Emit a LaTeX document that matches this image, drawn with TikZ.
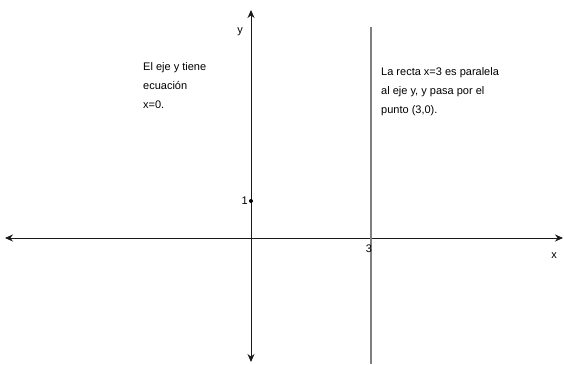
\documentclass[tikz,border=0pt]{standalone}
\usepackage{fontspec}
\setmainfont{Liberation Sans}
\usetikzlibrary{arrows.meta, positioning}
\definecolor{axisBlack}{HTML}{1A1A1A}
\definecolor{lineGray}{HTML}{7F7F7F}

\begin{document}
\begin{tikzpicture}[
    x=1pt, y=1pt,
    axis/.style={draw=axisBlack, line width=0.9pt, {Stealth[length=8pt,width=7pt]}-{Stealth[length=8pt,width=7pt]}},
    recta/.style={draw=lineGray, line width=1.2pt},
    label/.style={inner sep=0pt, font=\fontsize{11}{19}\selectfont},
    note/.style={label, align=left, anchor=north west}
]
    \useasboundingbox (0,0) rectangle (564,364);

    % axes
    \coordinate (O) at (251,126);
    \coordinate (Xl) at (5,126);
    \coordinate (Xr) at (563,126);
    \coordinate (Yt) at (251,354);
    \coordinate (Yb) at (251,2);
    \draw[axis] (Xl) -- (Xr);
    \draw[axis] (Yb) -- (Yt);
    \node[label] (ylab) at (240,332) {y};
    \node[label] (xlab) at (554,108) {x};

    % the line x=3
    \coordinate (Rt) at (371,337);
    \coordinate (Rb) at (371,0);
    \draw[recta] (Rt) -- (Rb);
    \node[label] (tres) at (369,115) {3};

    % point (0,1)
    \fill (251,163) circle (2pt) coordinate (P1);
    \node[label, left=3pt of P1] (uno) {1};

    \node[note] (ejeY) at (143,302) {El eje y tiene\\ecuación\\x=0.};
    \node[note] (rectaTxt) at (381,297) {La recta x=3 es paralela\\al eje y, y pasa por el\\punto (3,0).};
\end{tikzpicture}
\end{document}
